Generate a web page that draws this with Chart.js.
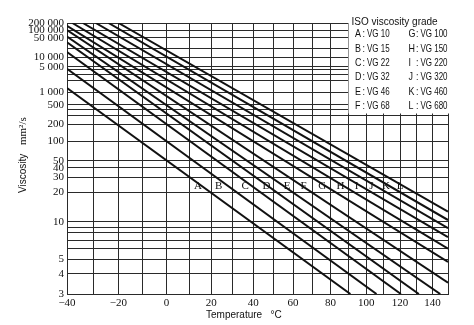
<!DOCTYPE html>
<html>
<head>
<meta charset="utf-8">
<script src="https://cdn.jsdelivr.net/npm/chart.js@4.4.1/dist/chart.umd.min.js"></script>
<style>
  html, body { margin: 0; padding: 0; background: #fff; }
  #wrap { width: 474px; height: 325px; position: relative; }
</style>
</head>
<body>
<div id="wrap"><canvas id="viscosity-chart"></canvas></div>
<script>
// ISO grades, one straight line each (entry point -> exit point)
const grades = ['A', 'B', 'C', 'D', 'E', 'F', 'G', 'H', 'I', 'J', 'K', 'L'];
const vgNames = ['VG 10', 'VG 15', 'VG 22', 'VG 32', 'VG 46', 'VG 68',
                 'VG 100', 'VG 150', 'VG 220', 'VG 320', 'VG 460', 'VG 680'];
const startTemp = [-40, -40, -40, -40, -40, -40, -40, -38, -34, -29, -24, -20];
const startVisc = [1270, 4300, 15000, 33000, 55000, 100000, 150000, 200000, 200000, 200000, 200000, 200000];
const endTemp = [91, 106, 120.5, 131.5, 145, 150, 150, 150, 150, 150, 150, 150];
const endVisc = [3, 3, 3, 3, 3, 3.5, 4.8, 6, 7.4, 8.8, 10.4, 12.5];
// where the grade letters sit (temperature, viscosity)
const letterTemp = [14, 23.5, 36, 46.5, 57, 65.5, 75.5, 85.5, 94.5, 103, 111.5, 120];
const letterVisc = 24;

// axes
const tempGrid = [-40, -30, -20, -10, 0, 10, 20, 30, 40, 50, 60, 70, 80, 90, 100, 110, 120, 130, 140, 150];
const tempLabels = [-40, -20, 0, 20, 40, 60, 80, 100, 120, 140];
const viscGrid = [3, 4, 5, 6, 7, 8, 9, 10, 20, 30, 40, 50, 100, 200, 300, 400, 500,
                  1000, 2000, 3000, 4000, 5000, 10000, 20000, 50000, 100000, 200000];
const viscLabels = [3, 4, 5, 10, 20, 30, 40, 50, 100, 200, 500, 1000, 5000, 10000, 50000, 100000, 200000];

// viscosity axis is the usual log(log(v + 0.7)) chart paper, temperature axis is log-compressed
const TEMP_OFFSET = 300;
const fwdTemp = t => Math.log10(t + TEMP_OFFSET);
const invTemp = p => Math.pow(10, p) - TEMP_OFFSET;
const fwdVisc = v => Math.log10(Math.log10(v + 0.7));
const invVisc = p => Math.pow(10, Math.pow(10, p)) - 0.7;

function makeScale(id, fwd, inv, tickValues) {
    return class extends Chart.Scale {
        static id = id;
        static defaults = {};
        determineDataLimits() {
            this.min = this.options.min;
            this.max = this.options.max;
        }
        buildTicks() {
            return tickValues.map(v => ({ value: v }));
        }
        getLabelForValue(v) { return String(v); }
        configure() {
            super.configure();
            this._lo = fwd(this.min);
            this._hi = fwd(this.max);
        }
        getPixelForValue(v) {
            return this.getPixelForDecimal((fwd(v) - this._lo) / (this._hi - this._lo));
        }
        getValueForPixel(p) {
            return inv(this._lo + this.getDecimalForPixel(p) * (this._hi - this._lo));
        }
    };
}

const TempScale = makeScale('logTemp', fwdTemp, invTemp, tempGrid);
const ViscScale = makeScale('astmVisc', fwdVisc, invVisc, viscGrid);
Chart.register(TempScale, ViscScale);

const fmtThousands = v => String(v).replace(/\B(?=(\d{3})+(?!\d))/g, ' ');
const fmtTemp = v => (v < 0 ? '\u2212' + Math.abs(v) : String(v));

const serif = '"Liberation Serif", "Times New Roman", serif';
const sans = '"Liberation Sans", Arial, Helvetica, sans-serif';

const datasets = grades.map((g, i) => ({
    label: g,
    data: [{ x: startTemp[i], y: startVisc[i] }, { x: endTemp[i], y: endVisc[i] }],
    borderColor: '#111',
    borderWidth: 2,
    pointRadius: 0,
    tension: 0,
    fill: false
}));

// narrow text, drawn squeezed horizontally
function narrowText(ctx, text, x, y, sx) {
    ctx.save();
    ctx.translate(x, y);
    ctx.scale(sx, 1);
    ctx.fillText(text, 0, 0);
    ctx.restore();
}

// letters A..L, legend box, axis titles
const decorPlugin = {
    id: 'decor',
    afterDatasetsDraw(chart) {
        const ctx = chart.ctx;
        const xs = chart.scales.x, ys = chart.scales.y;
        ctx.save();
        ctx.font = '11px ' + serif;
        ctx.fillStyle = '#111';
        ctx.textAlign = 'center';
        ctx.textBaseline = 'middle';
        grades.forEach((g, i) => {
            ctx.fillText(g, xs.getPixelForValue(letterTemp[i]), ys.getPixelForValue(letterVisc) + 1);
        });
        ctx.restore();
    },
    afterDraw(chart) {
        const ctx = chart.ctx;
        ctx.save();

        // legend panel
        ctx.fillStyle = '#fff';
        ctx.fillRect(348.5, 0, 130, 113.5);
        ctx.fillStyle = '#111';
        ctx.textBaseline = 'middle';
        ctx.textAlign = 'left';
        ctx.font = '10px ' + sans;
        ctx.fillText('ISO viscosity grade', 351.5, 22);
        ctx.font = '10.5px ' + sans;
        for (let r = 0; r < 6; r++) {
            const y = 34.5 + r * 14.3;
            [[r, 355], [r + 6, 408.5]].forEach(([i, x0]) => {
                narrowText(ctx, grades[i], x0, y, 0.85);
                narrowText(ctx, ':', x0 + 7.5, y, 0.85);
                narrowText(ctx, vgNames[i], x0 + 12, y, 0.76);
            });
        }

        // x title
        ctx.font = '10px ' + sans;
        ctx.fillText('Temperature', 206, 315.5);
        ctx.fillText('\u00b0C', 270.5, 315.5);

        // y title (rotated)
        ctx.translate(23, 193);
        ctx.rotate(-Math.PI / 2);
        ctx.font = '10px ' + sans;
        ctx.fillText('Viscosity', 0, 0);
        ctx.font = '11px ' + serif;
        ctx.fillText('mm\u00b2/s', 48, 0);
        ctx.restore();
    }
};

new Chart(document.getElementById('viscosity-chart').getContext('2d'), {
    type: 'line',
    data: { datasets: datasets },
    options: {
        responsive: true,
        maintainAspectRatio: false,
        animation: false,
        events: [],
        layout: { padding: { left: 0, top: 23, right: 26, bottom: 0 } },
        plugins: {
            legend: { display: false },
            tooltip: { enabled: false }
        },
        scales: {
            x: {
                type: 'logTemp',
                position: 'bottom',
                min: -40,
                max: 150,
                grid: { color: '#2a2a2a', lineWidth: 1, drawTicks: false },
                border: { display: true, color: '#2a2a2a', width: 1 },
                ticks: {
                    autoSkip: false,
                    maxRotation: 0,
                    minRotation: 0,
                    padding: 3,
                    color: '#111',
                    font: { family: serif, size: 11 },
                    callback: v => (tempLabels.includes(v) ? fmtTemp(v) : '')
                },
                afterFit: s => { s.height = 31; }
            },
            y: {
                type: 'astmVisc',
                position: 'left',
                min: 3,
                max: 200000,
                grid: { color: '#2a2a2a', lineWidth: 1, drawTicks: false },
                border: { display: true, color: '#2a2a2a', width: 1 },
                ticks: {
                    autoSkip: false,
                    padding: 3,
                    color: '#111',
                    font: { family: serif, size: 11 },
                    callback: v => (viscLabels.includes(v) ? fmtThousands(v) : '')
                },
                afterFit: s => { s.width = 67; }
            }
        }
    },
    plugins: [decorPlugin]
});
</script>
</body>
</html>
